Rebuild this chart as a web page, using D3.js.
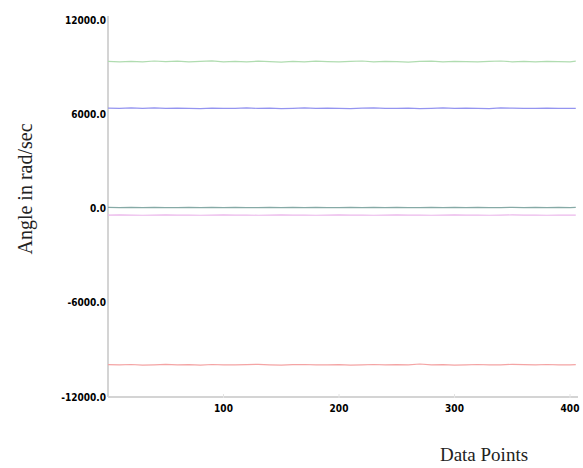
<!DOCTYPE html>
<html>
<head>
<meta charset="utf-8">
<script src="https://cdn.jsdelivr.net/npm/d3@7"></script>
<style>
  body { margin: 0; background: #fff; }
  .tick-label { font-family: "Liberation Sans Narrow", "DejaVu Sans Condensed", sans-serif; font-weight: bold; font-size: 10px; fill: #000; }
  .axis-title { font-family: "Liberation Serif", "DejaVu Serif", serif; font-size: 20px; fill: #222; }
</style>
</head>
<body>
<div id="chart"></div>
<script>

// sample positions along the x axis
var dataPoints = [0, 10, 20, 30, 40, 50, 60, 70, 80, 90, 100, 110, 120, 130, 140, 150, 160, 170, 180, 190,
                  200, 210, 220, 230, 240, 250, 260, 270, 280, 290, 300, 310, 320, 330, 340, 350, 360, 370, 380, 390, 400, 405];

var greenSeries = [9360, 9330, 9370, 9340, 9390, 9350, 9380, 9330, 9360, 9400, 9340, 9370, 9330, 9380, 9350, 9320, 9370, 9340, 9380, 9350,
                   9330, 9360, 9390, 9340, 9370, 9350, 9320, 9360, 9380, 9340, 9370, 9350, 9330, 9360, 9390, 9340, 9360, 9330, 9370, 9350, 9340, 9380];
var blueSeries  = [6390, 6370, 6400, 6380, 6410, 6370, 6390, 6380, 6360, 6390, 6370, 6380, 6400, 6370, 6390, 6360, 6380, 6400, 6370, 6390,
                   6380, 6360, 6390, 6410, 6370, 6380, 6390, 6360, 6380, 6400, 6370, 6390, 6380, 6360, 6400, 6390, 6370, 6380, 6390, 6380, 6370, 6380];
var tealSeries  = [70, 60, 70, 60, 70, 60, 60, 70, 60, 70, 60, 70, 60, 60, 70, 60, 70, 60, 70, 60,
                   60, 70, 60, 70, 60, 70, 60, 60, 70, 60, 70, 60, 70, 60, 60, 70, 60, 70, 60, 70, 60, 70];
var pinkSeries  = [-420, -410, -420, -430, -420, -410, -420, -420, -430, -420, -410, -420, -420, -430, -420, -410, -420, -420, -430, -420,
                   -410, -420, -420, -430, -420, -410, -420, -420, -430, -420, -410, -420, -420, -430, -420, -410, -420, -420, -430, -420, -420, -420];
var redSeries   = [-9940, -9960, -9930, -9970, -9950, -9920, -9960, -9940, -9970, -9930, -9950, -9960, -9940, -9920, -9950, -9970, -9940, -9930, -9960, -9950,
                   -9940, -9970, -9950, -9930, -9960, -9940, -9950, -9900, -9960, -9940, -9970, -9950, -9930, -9960, -9950, -9920, -9940, -9960, -9930, -9950, -9960, -9940];

var seriesColors = ["#b0dcb0", "#9494f0", "#86aaa6", "#ebb8eb", "#f4a4a4"];

var yTicks = [12000, 6000, 0, -6000, -12000];
var xTicks = [100, 200, 300, 400];

var width = 583, height = 468;
var margin = { left: 108, top: 20, plotRight: 570, axisRight: 578, bottom: 397 };

var svg = d3.select("#chart").append("svg")
    .attr("width", width)
    .attr("height", height);

var x = d3.scaleLinear().domain([0, 400]).range([margin.left, margin.plotRight]);
var y = d3.scaleLinear().domain([-12000, 12000]).range([margin.bottom, margin.top]);

// axis lines
svg.append("line")
    .attr("x1", margin.left).attr("x2", margin.left)
    .attr("y1", margin.top - 4).attr("y2", margin.bottom)
    .attr("stroke", "#d4d4d4").attr("stroke-width", 2);

svg.append("line")
    .attr("x1", margin.left).attr("x2", margin.axisRight)
    .attr("y1", margin.bottom).attr("y2", margin.bottom)
    .attr("stroke", "#d4d4d4").attr("stroke-width", 2);

// y tick labels
svg.selectAll(".ylab")
    .data(yTicks)
    .enter().append("text")
    .attr("class", "tick-label")
    .attr("x", margin.left - 2)
    .attr("y", function(d) { return y(d); })
    .attr("dy", "0.35em")
    .attr("text-anchor", "end")
    .text(function(d) { return d.toFixed(1); });

// x ticks + labels
svg.selectAll(".xtick")
    .data(xTicks)
    .enter().append("line")
    .attr("x1", function(d) { return x(d); })
    .attr("x2", function(d) { return x(d); })
    .attr("y1", margin.bottom - 3)
    .attr("y2", margin.bottom + 1)
    .attr("stroke", "#e4e4e4");

svg.selectAll(".xlab")
    .data(xTicks)
    .enter().append("text")
    .attr("class", "tick-label")
    .attr("x", function(d) { return x(d); })
    .attr("y", margin.bottom + 11)
    .attr("dy", "0.35em")
    .attr("text-anchor", "middle")
    .text(function(d) { return d; });

// series lines
var line = d3.line()
    .x(function(d, i) { return x(dataPoints[i]); })
    .y(function(d) { return y(d); });

var allSeries = [greenSeries, blueSeries, tealSeries, pinkSeries, redSeries];

svg.selectAll(".series")
    .data(allSeries)
    .enter().append("path")
    .attr("d", line)
    .attr("fill", "none")
    .attr("stroke", function(d, i) { return seriesColors[i]; })
    .attr("stroke-width", 1.2);

// titles
svg.append("text")
    .attr("class", "axis-title")
    .attr("transform", "translate(32,189) rotate(-90)")
    .attr("text-anchor", "middle")
    .text("Angle in rad/sec");

svg.append("text")
    .attr("class", "axis-title")
    .attr("x", 484)
    .attr("y", 461)
    .style("font-size", "19px")
    .attr("text-anchor", "middle")
    .text("Data Points");

</script>
</body>
</html>
